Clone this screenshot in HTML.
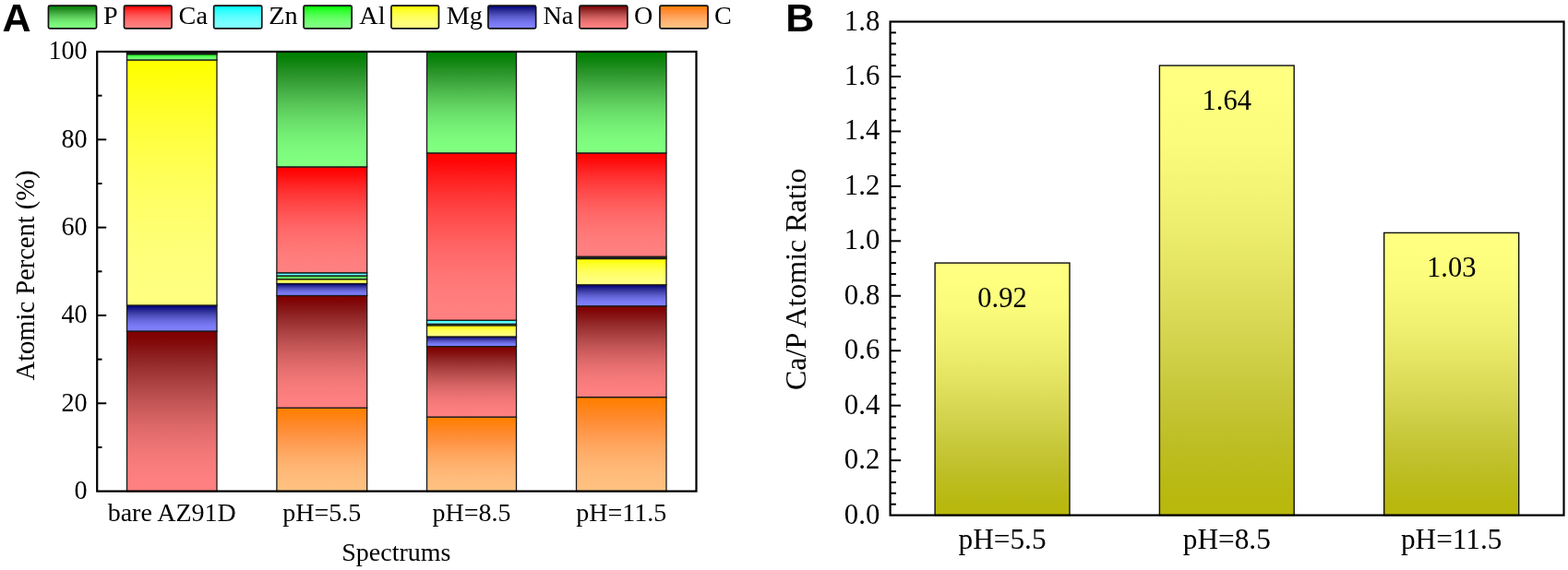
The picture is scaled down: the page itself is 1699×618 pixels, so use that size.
<!DOCTYPE html>
<html><head><meta charset="utf-8"><title>Figure</title>
<style>html,body{margin:0;padding:0;background:#fff;}body{width:1699px;height:618px;overflow:hidden;}svg{display:block;}</style>
</head><body>
<svg width="1699" height="618" viewBox="0 0 1699 618"><defs><linearGradient id="gP" x1="0" y1="0" x2="0" y2="1"><stop offset="0.000" stop-color="#008000"/><stop offset="0.042" stop-color="#048104"/><stop offset="0.083" stop-color="#0e840e"/><stop offset="0.125" stop-color="#188918"/><stop offset="0.167" stop-color="#228f22"/><stop offset="0.208" stop-color="#2b962b"/><stop offset="0.250" stop-color="#349d34"/><stop offset="0.292" stop-color="#3ba53b"/><stop offset="0.333" stop-color="#43ad43"/><stop offset="0.375" stop-color="#4ab54a"/><stop offset="0.417" stop-color="#50bd50"/><stop offset="0.458" stop-color="#57c557"/><stop offset="0.500" stop-color="#5ccd5c"/><stop offset="0.542" stop-color="#62d462"/><stop offset="0.583" stop-color="#67db67"/><stop offset="0.625" stop-color="#6be16b"/><stop offset="0.667" stop-color="#6fe76f"/><stop offset="0.708" stop-color="#73ec73"/><stop offset="0.750" stop-color="#76f176"/><stop offset="0.792" stop-color="#79f579"/><stop offset="0.833" stop-color="#7cf87c"/><stop offset="0.875" stop-color="#7dfb7d"/><stop offset="0.917" stop-color="#7ffd7f"/><stop offset="0.958" stop-color="#80ff80"/><stop offset="1.000" stop-color="#80ff80"/></linearGradient><linearGradient id="gCa" x1="0" y1="0" x2="0" y2="1"><stop offset="0.000" stop-color="#ff0000"/><stop offset="0.042" stop-color="#ff0404"/><stop offset="0.083" stop-color="#ff0e0e"/><stop offset="0.125" stop-color="#ff1818"/><stop offset="0.167" stop-color="#ff2222"/><stop offset="0.208" stop-color="#ff2b2b"/><stop offset="0.250" stop-color="#ff3434"/><stop offset="0.292" stop-color="#ff3b3b"/><stop offset="0.333" stop-color="#ff4343"/><stop offset="0.375" stop-color="#ff4a4a"/><stop offset="0.417" stop-color="#ff5050"/><stop offset="0.458" stop-color="#ff5757"/><stop offset="0.500" stop-color="#ff5c5c"/><stop offset="0.542" stop-color="#ff6262"/><stop offset="0.583" stop-color="#ff6767"/><stop offset="0.625" stop-color="#ff6b6b"/><stop offset="0.667" stop-color="#ff6f6f"/><stop offset="0.708" stop-color="#ff7373"/><stop offset="0.750" stop-color="#ff7676"/><stop offset="0.792" stop-color="#ff7979"/><stop offset="0.833" stop-color="#ff7c7c"/><stop offset="0.875" stop-color="#ff7d7d"/><stop offset="0.917" stop-color="#ff7f7f"/><stop offset="0.958" stop-color="#ff8080"/><stop offset="1.000" stop-color="#ff8080"/></linearGradient><linearGradient id="gZn" x1="0" y1="0" x2="0" y2="1"><stop offset="0.000" stop-color="#00ffff"/><stop offset="0.042" stop-color="#04ffff"/><stop offset="0.083" stop-color="#0effff"/><stop offset="0.125" stop-color="#18ffff"/><stop offset="0.167" stop-color="#22ffff"/><stop offset="0.208" stop-color="#2bffff"/><stop offset="0.250" stop-color="#34ffff"/><stop offset="0.292" stop-color="#3bffff"/><stop offset="0.333" stop-color="#43ffff"/><stop offset="0.375" stop-color="#4affff"/><stop offset="0.417" stop-color="#50ffff"/><stop offset="0.458" stop-color="#57ffff"/><stop offset="0.500" stop-color="#5cffff"/><stop offset="0.542" stop-color="#62ffff"/><stop offset="0.583" stop-color="#67ffff"/><stop offset="0.625" stop-color="#6bffff"/><stop offset="0.667" stop-color="#6fffff"/><stop offset="0.708" stop-color="#73ffff"/><stop offset="0.750" stop-color="#76ffff"/><stop offset="0.792" stop-color="#79ffff"/><stop offset="0.833" stop-color="#7cffff"/><stop offset="0.875" stop-color="#7dffff"/><stop offset="0.917" stop-color="#7fffff"/><stop offset="0.958" stop-color="#80ffff"/><stop offset="1.000" stop-color="#80ffff"/></linearGradient><linearGradient id="gAl" x1="0" y1="0" x2="0" y2="1"><stop offset="0.000" stop-color="#00ff00"/><stop offset="0.042" stop-color="#04ff04"/><stop offset="0.083" stop-color="#0eff0e"/><stop offset="0.125" stop-color="#18ff18"/><stop offset="0.167" stop-color="#22ff22"/><stop offset="0.208" stop-color="#2bff2b"/><stop offset="0.250" stop-color="#34ff34"/><stop offset="0.292" stop-color="#3bff3b"/><stop offset="0.333" stop-color="#43ff43"/><stop offset="0.375" stop-color="#4aff4a"/><stop offset="0.417" stop-color="#50ff50"/><stop offset="0.458" stop-color="#57ff57"/><stop offset="0.500" stop-color="#5cff5c"/><stop offset="0.542" stop-color="#62ff62"/><stop offset="0.583" stop-color="#67ff67"/><stop offset="0.625" stop-color="#6bff6b"/><stop offset="0.667" stop-color="#6fff6f"/><stop offset="0.708" stop-color="#73ff73"/><stop offset="0.750" stop-color="#76ff76"/><stop offset="0.792" stop-color="#79ff79"/><stop offset="0.833" stop-color="#7cff7c"/><stop offset="0.875" stop-color="#7dff7d"/><stop offset="0.917" stop-color="#7fff7f"/><stop offset="0.958" stop-color="#80ff80"/><stop offset="1.000" stop-color="#80ff80"/></linearGradient><linearGradient id="gMg" x1="0" y1="0" x2="0" y2="1"><stop offset="0.000" stop-color="#ffff00"/><stop offset="0.042" stop-color="#ffff04"/><stop offset="0.083" stop-color="#ffff0e"/><stop offset="0.125" stop-color="#ffff18"/><stop offset="0.167" stop-color="#ffff22"/><stop offset="0.208" stop-color="#ffff2b"/><stop offset="0.250" stop-color="#ffff34"/><stop offset="0.292" stop-color="#ffff3b"/><stop offset="0.333" stop-color="#ffff43"/><stop offset="0.375" stop-color="#ffff4a"/><stop offset="0.417" stop-color="#ffff50"/><stop offset="0.458" stop-color="#ffff57"/><stop offset="0.500" stop-color="#ffff5c"/><stop offset="0.542" stop-color="#ffff62"/><stop offset="0.583" stop-color="#ffff67"/><stop offset="0.625" stop-color="#ffff6b"/><stop offset="0.667" stop-color="#ffff6f"/><stop offset="0.708" stop-color="#ffff73"/><stop offset="0.750" stop-color="#ffff76"/><stop offset="0.792" stop-color="#ffff79"/><stop offset="0.833" stop-color="#ffff7c"/><stop offset="0.875" stop-color="#ffff7d"/><stop offset="0.917" stop-color="#ffff7f"/><stop offset="0.958" stop-color="#ffff80"/><stop offset="1.000" stop-color="#ffff80"/></linearGradient><linearGradient id="gNa" x1="0" y1="0" x2="0" y2="1"><stop offset="0.000" stop-color="#000080"/><stop offset="0.042" stop-color="#040481"/><stop offset="0.083" stop-color="#0e0e84"/><stop offset="0.125" stop-color="#181889"/><stop offset="0.167" stop-color="#22228f"/><stop offset="0.208" stop-color="#2b2b96"/><stop offset="0.250" stop-color="#34349d"/><stop offset="0.292" stop-color="#3b3ba5"/><stop offset="0.333" stop-color="#4343ad"/><stop offset="0.375" stop-color="#4a4ab5"/><stop offset="0.417" stop-color="#5050bd"/><stop offset="0.458" stop-color="#5757c5"/><stop offset="0.500" stop-color="#5c5ccd"/><stop offset="0.542" stop-color="#6262d4"/><stop offset="0.583" stop-color="#6767db"/><stop offset="0.625" stop-color="#6b6be1"/><stop offset="0.667" stop-color="#6f6fe7"/><stop offset="0.708" stop-color="#7373ec"/><stop offset="0.750" stop-color="#7676f1"/><stop offset="0.792" stop-color="#7979f5"/><stop offset="0.833" stop-color="#7c7cf8"/><stop offset="0.875" stop-color="#7d7dfb"/><stop offset="0.917" stop-color="#7f7ffd"/><stop offset="0.958" stop-color="#8080ff"/><stop offset="1.000" stop-color="#8080ff"/></linearGradient><linearGradient id="gO" x1="0" y1="0" x2="0" y2="1"><stop offset="0.000" stop-color="#800000"/><stop offset="0.042" stop-color="#810404"/><stop offset="0.083" stop-color="#840e0e"/><stop offset="0.125" stop-color="#891818"/><stop offset="0.167" stop-color="#8f2222"/><stop offset="0.208" stop-color="#962b2b"/><stop offset="0.250" stop-color="#9d3434"/><stop offset="0.292" stop-color="#a53b3b"/><stop offset="0.333" stop-color="#ad4343"/><stop offset="0.375" stop-color="#b54a4a"/><stop offset="0.417" stop-color="#bd5050"/><stop offset="0.458" stop-color="#c55757"/><stop offset="0.500" stop-color="#cd5c5c"/><stop offset="0.542" stop-color="#d46262"/><stop offset="0.583" stop-color="#db6767"/><stop offset="0.625" stop-color="#e16b6b"/><stop offset="0.667" stop-color="#e76f6f"/><stop offset="0.708" stop-color="#ec7373"/><stop offset="0.750" stop-color="#f17676"/><stop offset="0.792" stop-color="#f57979"/><stop offset="0.833" stop-color="#f87c7c"/><stop offset="0.875" stop-color="#fb7d7d"/><stop offset="0.917" stop-color="#fd7f7f"/><stop offset="0.958" stop-color="#ff8080"/><stop offset="1.000" stop-color="#ff8080"/></linearGradient><linearGradient id="gC" x1="0" y1="0" x2="0" y2="1"><stop offset="0.000" stop-color="#ff8000"/><stop offset="0.042" stop-color="#ff8004"/><stop offset="0.083" stop-color="#ff820e"/><stop offset="0.125" stop-color="#ff8418"/><stop offset="0.167" stop-color="#ff8622"/><stop offset="0.208" stop-color="#ff892b"/><stop offset="0.250" stop-color="#ff8d34"/><stop offset="0.292" stop-color="#ff903b"/><stop offset="0.333" stop-color="#ff9443"/><stop offset="0.375" stop-color="#ff984a"/><stop offset="0.417" stop-color="#ff9c50"/><stop offset="0.458" stop-color="#ffa057"/><stop offset="0.500" stop-color="#ffa45c"/><stop offset="0.542" stop-color="#ffa862"/><stop offset="0.583" stop-color="#ffac67"/><stop offset="0.625" stop-color="#ffaf6b"/><stop offset="0.667" stop-color="#ffb26f"/><stop offset="0.708" stop-color="#ffb573"/><stop offset="0.750" stop-color="#ffb876"/><stop offset="0.792" stop-color="#ffba79"/><stop offset="0.833" stop-color="#ffbc7c"/><stop offset="0.875" stop-color="#ffbe7d"/><stop offset="0.917" stop-color="#ffbf7f"/><stop offset="0.958" stop-color="#ffc080"/><stop offset="1.000" stop-color="#ffc080"/></linearGradient><linearGradient id="gB" x1="0" y1="0" x2="0" y2="1"><stop offset="0.000" stop-color="#ffff80"/><stop offset="0.042" stop-color="#ffff80"/><stop offset="0.083" stop-color="#fefe7f"/><stop offset="0.125" stop-color="#fcfc7d"/><stop offset="0.167" stop-color="#fbfb7c"/><stop offset="0.208" stop-color="#f8f879"/><stop offset="0.250" stop-color="#f6f676"/><stop offset="0.292" stop-color="#f3f373"/><stop offset="0.333" stop-color="#efef70"/><stop offset="0.375" stop-color="#ecec6c"/><stop offset="0.417" stop-color="#e8e867"/><stop offset="0.458" stop-color="#e4e462"/><stop offset="0.500" stop-color="#dfdf5d"/><stop offset="0.542" stop-color="#dbdb58"/><stop offset="0.583" stop-color="#d6d652"/><stop offset="0.625" stop-color="#d2d24b"/><stop offset="0.667" stop-color="#cece45"/><stop offset="0.708" stop-color="#c9c93d"/><stop offset="0.750" stop-color="#c5c536"/><stop offset="0.792" stop-color="#c2c22e"/><stop offset="0.833" stop-color="#bebe26"/><stop offset="0.875" stop-color="#bcbc1e"/><stop offset="0.917" stop-color="#baba16"/><stop offset="0.958" stop-color="#b8b80f"/><stop offset="1.000" stop-color="#b8b80c"/></linearGradient></defs><rect width="100%" height="100%" fill="#fff"/><text x="2.60" y="33.90" style="font-family:'Liberation Sans',Arial,sans-serif;font-size:41.80px;font-weight:bold" text-anchor="start" transform="translate(2.6 0) scale(1.03 1) translate(-2.6 0)">A</text>
<text x="851.30" y="33.90" style="font-family:'Liberation Sans',Arial,sans-serif;font-size:41.80px;font-weight:bold" text-anchor="start" transform="translate(851.3 0) scale(1.03 1) translate(-851.3 0)">B</text>
<rect x="52.45" y="6.15" width="52.10" height="24.70" rx="1.5" fill="url(#gP)" stroke="#111" stroke-width="1.70"/>
<text x="112.00" y="25.70" style="font-family:'Liberation Serif','Times New Roman',serif;font-size:28.20px;font-weight:normal" text-anchor="start">P</text>
<rect x="134.45" y="6.15" width="51.60" height="24.70" rx="1.5" fill="url(#gCa)" stroke="#111" stroke-width="1.70"/>
<text x="193.60" y="25.70" style="font-family:'Liberation Serif','Times New Roman',serif;font-size:28.20px;font-weight:normal" text-anchor="start">Ca</text>
<rect x="231.65" y="6.15" width="52.10" height="24.70" rx="1.5" fill="url(#gZn)" stroke="#111" stroke-width="1.70"/>
<text x="291.20" y="25.70" style="font-family:'Liberation Serif','Times New Roman',serif;font-size:28.20px;font-weight:normal" text-anchor="start">Zn</text>
<rect x="329.05" y="6.15" width="52.10" height="24.70" rx="1.5" fill="url(#gAl)" stroke="#111" stroke-width="1.70"/>
<text x="389.30" y="25.70" style="font-family:'Liberation Serif','Times New Roman',serif;font-size:28.20px;font-weight:normal" text-anchor="start">Al</text>
<rect x="423.95" y="6.15" width="51.50" height="24.70" rx="1.5" fill="url(#gMg)" stroke="#111" stroke-width="1.70"/>
<text x="483.70" y="25.70" style="font-family:'Liberation Serif','Times New Roman',serif;font-size:28.20px;font-weight:normal" text-anchor="start">Mg</text>
<rect x="528.95" y="6.15" width="51.70" height="24.70" rx="1.5" fill="url(#gNa)" stroke="#111" stroke-width="1.70"/>
<text x="588.50" y="25.70" style="font-family:'Liberation Serif','Times New Roman',serif;font-size:28.20px;font-weight:normal" text-anchor="start">Na</text>
<rect x="627.95" y="6.15" width="51.90" height="24.70" rx="1.5" fill="url(#gO)" stroke="#111" stroke-width="1.70"/>
<text x="687.00" y="25.70" style="font-family:'Liberation Serif','Times New Roman',serif;font-size:28.20px;font-weight:normal" text-anchor="start">O</text>
<rect x="714.95" y="6.15" width="52.10" height="24.70" rx="1.5" fill="url(#gC)" stroke="#111" stroke-width="1.70"/>
<text x="774.00" y="25.70" style="font-family:'Liberation Serif','Times New Roman',serif;font-size:28.20px;font-weight:normal" text-anchor="start">C</text>
<rect x="137.50" y="359.00" width="97.50" height="173.60" fill="url(#gO)" stroke="#1a1a1a" stroke-width="1.30"/>
<rect x="137.50" y="331.00" width="97.50" height="28.00" fill="url(#gNa)" stroke="#1a1a1a" stroke-width="1.30"/>
<rect x="137.50" y="65.00" width="97.50" height="266.00" fill="url(#gMg)" stroke="#1a1a1a" stroke-width="1.30"/>
<rect x="137.50" y="58.70" width="97.50" height="6.30" fill="url(#gAl)" stroke="#1a1a1a" stroke-width="1.30"/>
<rect x="137.50" y="57.60" width="97.50" height="1.10" fill="url(#gZn)" stroke="#1a1a1a" stroke-width="1.30"/>
<rect x="137.50" y="56.00" width="97.50" height="1.60" fill="url(#gP)" stroke="#1a1a1a" stroke-width="1.30"/>
<rect x="299.90" y="442.20" width="97.80" height="90.40" fill="url(#gC)" stroke="#1a1a1a" stroke-width="1.30"/>
<rect x="299.90" y="320.50" width="97.80" height="121.70" fill="url(#gO)" stroke="#1a1a1a" stroke-width="1.30"/>
<rect x="299.90" y="307.50" width="97.80" height="13.00" fill="url(#gNa)" stroke="#1a1a1a" stroke-width="1.30"/>
<rect x="299.90" y="302.70" width="97.80" height="4.80" fill="url(#gMg)" stroke="#1a1a1a" stroke-width="1.30"/>
<rect x="299.90" y="299.00" width="97.80" height="3.70" fill="url(#gAl)" stroke="#1a1a1a" stroke-width="1.30"/>
<rect x="299.90" y="295.80" width="97.80" height="3.20" fill="url(#gZn)" stroke="#1a1a1a" stroke-width="1.30"/>
<rect x="299.90" y="180.90" width="97.80" height="114.90" fill="url(#gCa)" stroke="#1a1a1a" stroke-width="1.30"/>
<rect x="299.90" y="56.00" width="97.80" height="124.90" fill="url(#gP)" stroke="#1a1a1a" stroke-width="1.30"/>
<rect x="462.50" y="452.10" width="97.00" height="80.50" fill="url(#gC)" stroke="#1a1a1a" stroke-width="1.30"/>
<rect x="462.50" y="375.60" width="97.00" height="76.50" fill="url(#gO)" stroke="#1a1a1a" stroke-width="1.30"/>
<rect x="462.50" y="365.00" width="97.00" height="10.60" fill="url(#gNa)" stroke="#1a1a1a" stroke-width="1.30"/>
<rect x="462.50" y="352.80" width="97.00" height="12.20" fill="url(#gMg)" stroke="#1a1a1a" stroke-width="1.30"/>
<rect x="462.50" y="351.30" width="97.00" height="1.50" fill="url(#gAl)" stroke="#1a1a1a" stroke-width="1.30"/>
<rect x="462.50" y="347.20" width="97.00" height="4.10" fill="url(#gZn)" stroke="#1a1a1a" stroke-width="1.30"/>
<rect x="462.50" y="165.90" width="97.00" height="181.30" fill="url(#gCa)" stroke="#1a1a1a" stroke-width="1.30"/>
<rect x="462.50" y="56.00" width="97.00" height="109.90" fill="url(#gP)" stroke="#1a1a1a" stroke-width="1.30"/>
<rect x="624.50" y="430.60" width="97.50" height="102.00" fill="url(#gC)" stroke="#1a1a1a" stroke-width="1.30"/>
<rect x="624.50" y="331.80" width="97.50" height="98.80" fill="url(#gO)" stroke="#1a1a1a" stroke-width="1.30"/>
<rect x="624.50" y="308.80" width="97.50" height="23.00" fill="url(#gNa)" stroke="#1a1a1a" stroke-width="1.30"/>
<rect x="624.50" y="280.50" width="97.50" height="28.30" fill="url(#gMg)" stroke="#1a1a1a" stroke-width="1.30"/>
<rect x="624.50" y="279.20" width="97.50" height="1.30" fill="url(#gAl)" stroke="#1a1a1a" stroke-width="1.30"/>
<rect x="624.50" y="278.20" width="97.50" height="1.00" fill="url(#gZn)" stroke="#1a1a1a" stroke-width="1.30"/>
<rect x="624.50" y="165.90" width="97.50" height="112.30" fill="url(#gCa)" stroke="#1a1a1a" stroke-width="1.30"/>
<rect x="624.50" y="56.00" width="97.50" height="109.90" fill="url(#gP)" stroke="#1a1a1a" stroke-width="1.30"/>
<rect x="105.20" y="56.00" width="649.30" height="476.60" fill="none" stroke="#000" stroke-width="2.20"/>
<text x="0" y="0" transform="translate(94.60 541.00) scale(0.970 1)" style="font-family:'Liberation Serif','Times New Roman',serif;font-size:29.00px;font-weight:normal" text-anchor="end">0</text>
<line x1="105.20" y1="484.94" x2="110.50" y2="484.94" stroke="#000" stroke-width="2"/>
<line x1="105.20" y1="437.28" x2="115.20" y2="437.28" stroke="#000" stroke-width="2"/>
<text x="0" y="0" transform="translate(94.60 445.68) scale(0.970 1)" style="font-family:'Liberation Serif','Times New Roman',serif;font-size:29.00px;font-weight:normal" text-anchor="end">20</text>
<line x1="105.20" y1="389.62" x2="110.50" y2="389.62" stroke="#000" stroke-width="2"/>
<line x1="105.20" y1="341.96" x2="115.20" y2="341.96" stroke="#000" stroke-width="2"/>
<text x="0" y="0" transform="translate(94.60 350.36) scale(0.970 1)" style="font-family:'Liberation Serif','Times New Roman',serif;font-size:29.00px;font-weight:normal" text-anchor="end">40</text>
<line x1="105.20" y1="294.30" x2="110.50" y2="294.30" stroke="#000" stroke-width="2"/>
<line x1="105.20" y1="246.64" x2="115.20" y2="246.64" stroke="#000" stroke-width="2"/>
<text x="0" y="0" transform="translate(94.60 255.04) scale(0.970 1)" style="font-family:'Liberation Serif','Times New Roman',serif;font-size:29.00px;font-weight:normal" text-anchor="end">60</text>
<line x1="105.20" y1="198.98" x2="110.50" y2="198.98" stroke="#000" stroke-width="2"/>
<line x1="105.20" y1="151.32" x2="115.20" y2="151.32" stroke="#000" stroke-width="2"/>
<text x="0" y="0" transform="translate(94.60 159.72) scale(0.970 1)" style="font-family:'Liberation Serif','Times New Roman',serif;font-size:29.00px;font-weight:normal" text-anchor="end">80</text>
<line x1="105.20" y1="103.66" x2="110.50" y2="103.66" stroke="#000" stroke-width="2"/>
<text x="0" y="0" transform="translate(94.60 64.40) scale(0.970 1)" style="font-family:'Liberation Serif','Times New Roman',serif;font-size:29.00px;font-weight:normal" text-anchor="end">100</text>
<text x="37.00" y="298.50" style="font-family:'Liberation Serif','Times New Roman',serif;font-size:28.50px;font-weight:normal" text-anchor="middle" transform="rotate(-90 37 298.5)">Atomic Percent (%)</text>
<text x="186.25" y="564.80" style="font-family:'Liberation Serif','Times New Roman',serif;font-size:28.00px;font-weight:normal" text-anchor="middle">bare AZ91D</text>
<text x="348.80" y="564.80" style="font-family:'Liberation Serif','Times New Roman',serif;font-size:28.00px;font-weight:normal" text-anchor="middle">pH=5.5</text>
<text x="511.00" y="564.80" style="font-family:'Liberation Serif','Times New Roman',serif;font-size:28.00px;font-weight:normal" text-anchor="middle">pH=8.5</text>
<text x="673.25" y="564.80" style="font-family:'Liberation Serif','Times New Roman',serif;font-size:28.00px;font-weight:normal" text-anchor="middle">pH=11.5</text>
<text x="429.40" y="607.90" style="font-family:'Liberation Serif','Times New Roman',serif;font-size:28.00px;font-weight:normal" text-anchor="middle">Spectrums</text>
<rect x="1013.10" y="285.10" width="145.90" height="273.50" fill="url(#gB)" stroke="#111" stroke-width="1.40"/>
<text x="1086.05" y="332.60" style="font-family:'Liberation Serif','Times New Roman',serif;font-size:30.50px;font-weight:normal" text-anchor="middle">0.92</text>
<text x="1086.05" y="595.00" style="font-family:'Liberation Serif','Times New Roman',serif;font-size:31.30px;font-weight:normal" text-anchor="middle">pH=5.5</text>
<rect x="1256.40" y="71.06" width="145.80" height="487.54" fill="url(#gB)" stroke="#111" stroke-width="1.40"/>
<text x="1329.30" y="118.56" style="font-family:'Liberation Serif','Times New Roman',serif;font-size:30.50px;font-weight:normal" text-anchor="middle">1.64</text>
<text x="1329.30" y="595.00" style="font-family:'Liberation Serif','Times New Roman',serif;font-size:31.30px;font-weight:normal" text-anchor="middle">pH=8.5</text>
<rect x="1499.70" y="252.40" width="146.00" height="306.20" fill="url(#gB)" stroke="#111" stroke-width="1.40"/>
<text x="1572.70" y="299.90" style="font-family:'Liberation Serif','Times New Roman',serif;font-size:30.50px;font-weight:normal" text-anchor="middle">1.03</text>
<text x="1572.70" y="595.00" style="font-family:'Liberation Serif','Times New Roman',serif;font-size:31.30px;font-weight:normal" text-anchor="middle">pH=11.5</text>
<rect x="964.60" y="23.50" width="729.90" height="535.10" fill="none" stroke="#000" stroke-width="2.20"/>
<text x="953.30" y="567.60" style="font-family:'Liberation Serif','Times New Roman',serif;font-size:30.80px;font-weight:normal" text-anchor="end">0.0</text>
<line x1="964.60" y1="546.71" x2="970.90" y2="546.71" stroke="#000" stroke-width="2"/>
<line x1="964.60" y1="534.82" x2="970.90" y2="534.82" stroke="#000" stroke-width="2"/>
<line x1="964.60" y1="522.93" x2="970.90" y2="522.93" stroke="#000" stroke-width="2"/>
<line x1="964.60" y1="511.04" x2="970.90" y2="511.04" stroke="#000" stroke-width="2"/>
<line x1="964.60" y1="499.14" x2="976.10" y2="499.14" stroke="#000" stroke-width="2"/>
<text x="953.30" y="508.14" style="font-family:'Liberation Serif','Times New Roman',serif;font-size:30.80px;font-weight:normal" text-anchor="end">0.2</text>
<line x1="964.60" y1="487.25" x2="970.90" y2="487.25" stroke="#000" stroke-width="2"/>
<line x1="964.60" y1="475.36" x2="970.90" y2="475.36" stroke="#000" stroke-width="2"/>
<line x1="964.60" y1="463.47" x2="970.90" y2="463.47" stroke="#000" stroke-width="2"/>
<line x1="964.60" y1="451.58" x2="970.90" y2="451.58" stroke="#000" stroke-width="2"/>
<line x1="964.60" y1="439.69" x2="976.10" y2="439.69" stroke="#000" stroke-width="2"/>
<text x="953.30" y="448.69" style="font-family:'Liberation Serif','Times New Roman',serif;font-size:30.80px;font-weight:normal" text-anchor="end">0.4</text>
<line x1="964.60" y1="427.80" x2="970.90" y2="427.80" stroke="#000" stroke-width="2"/>
<line x1="964.60" y1="415.91" x2="970.90" y2="415.91" stroke="#000" stroke-width="2"/>
<line x1="964.60" y1="404.02" x2="970.90" y2="404.02" stroke="#000" stroke-width="2"/>
<line x1="964.60" y1="392.12" x2="970.90" y2="392.12" stroke="#000" stroke-width="2"/>
<line x1="964.60" y1="380.23" x2="976.10" y2="380.23" stroke="#000" stroke-width="2"/>
<text x="953.30" y="389.23" style="font-family:'Liberation Serif','Times New Roman',serif;font-size:30.80px;font-weight:normal" text-anchor="end">0.6</text>
<line x1="964.60" y1="368.34" x2="970.90" y2="368.34" stroke="#000" stroke-width="2"/>
<line x1="964.60" y1="356.45" x2="970.90" y2="356.45" stroke="#000" stroke-width="2"/>
<line x1="964.60" y1="344.56" x2="970.90" y2="344.56" stroke="#000" stroke-width="2"/>
<line x1="964.60" y1="332.67" x2="970.90" y2="332.67" stroke="#000" stroke-width="2"/>
<line x1="964.60" y1="320.78" x2="976.10" y2="320.78" stroke="#000" stroke-width="2"/>
<text x="953.30" y="329.78" style="font-family:'Liberation Serif','Times New Roman',serif;font-size:30.80px;font-weight:normal" text-anchor="end">0.8</text>
<line x1="964.60" y1="308.89" x2="970.90" y2="308.89" stroke="#000" stroke-width="2"/>
<line x1="964.60" y1="297.00" x2="970.90" y2="297.00" stroke="#000" stroke-width="2"/>
<line x1="964.60" y1="285.10" x2="970.90" y2="285.10" stroke="#000" stroke-width="2"/>
<line x1="964.60" y1="273.21" x2="970.90" y2="273.21" stroke="#000" stroke-width="2"/>
<line x1="964.60" y1="261.32" x2="976.10" y2="261.32" stroke="#000" stroke-width="2"/>
<text x="953.30" y="270.32" style="font-family:'Liberation Serif','Times New Roman',serif;font-size:30.80px;font-weight:normal" text-anchor="end">1.0</text>
<line x1="964.60" y1="249.43" x2="970.90" y2="249.43" stroke="#000" stroke-width="2"/>
<line x1="964.60" y1="237.54" x2="970.90" y2="237.54" stroke="#000" stroke-width="2"/>
<line x1="964.60" y1="225.65" x2="970.90" y2="225.65" stroke="#000" stroke-width="2"/>
<line x1="964.60" y1="213.76" x2="970.90" y2="213.76" stroke="#000" stroke-width="2"/>
<line x1="964.60" y1="201.87" x2="976.10" y2="201.87" stroke="#000" stroke-width="2"/>
<text x="953.30" y="210.87" style="font-family:'Liberation Serif','Times New Roman',serif;font-size:30.80px;font-weight:normal" text-anchor="end">1.2</text>
<line x1="964.60" y1="189.98" x2="970.90" y2="189.98" stroke="#000" stroke-width="2"/>
<line x1="964.60" y1="178.08" x2="970.90" y2="178.08" stroke="#000" stroke-width="2"/>
<line x1="964.60" y1="166.19" x2="970.90" y2="166.19" stroke="#000" stroke-width="2"/>
<line x1="964.60" y1="154.30" x2="970.90" y2="154.30" stroke="#000" stroke-width="2"/>
<line x1="964.60" y1="142.41" x2="976.10" y2="142.41" stroke="#000" stroke-width="2"/>
<text x="953.30" y="151.41" style="font-family:'Liberation Serif','Times New Roman',serif;font-size:30.80px;font-weight:normal" text-anchor="end">1.4</text>
<line x1="964.60" y1="130.52" x2="970.90" y2="130.52" stroke="#000" stroke-width="2"/>
<line x1="964.60" y1="118.63" x2="970.90" y2="118.63" stroke="#000" stroke-width="2"/>
<line x1="964.60" y1="106.74" x2="970.90" y2="106.74" stroke="#000" stroke-width="2"/>
<line x1="964.60" y1="94.85" x2="970.90" y2="94.85" stroke="#000" stroke-width="2"/>
<line x1="964.60" y1="82.96" x2="976.10" y2="82.96" stroke="#000" stroke-width="2"/>
<text x="953.30" y="91.96" style="font-family:'Liberation Serif','Times New Roman',serif;font-size:30.80px;font-weight:normal" text-anchor="end">1.6</text>
<line x1="964.60" y1="71.06" x2="970.90" y2="71.06" stroke="#000" stroke-width="2"/>
<line x1="964.60" y1="59.17" x2="970.90" y2="59.17" stroke="#000" stroke-width="2"/>
<line x1="964.60" y1="47.28" x2="970.90" y2="47.28" stroke="#000" stroke-width="2"/>
<line x1="964.60" y1="35.39" x2="970.90" y2="35.39" stroke="#000" stroke-width="2"/>
<text x="953.30" y="32.50" style="font-family:'Liberation Serif','Times New Roman',serif;font-size:30.80px;font-weight:normal" text-anchor="end">1.8</text>
<text x="872.70" y="302.70" style="font-family:'Liberation Serif','Times New Roman',serif;font-size:32.00px;font-weight:normal" text-anchor="middle" transform="rotate(-90 872.7 302.7)">Ca/P Atomic Ratio</text></svg>
</body></html>
